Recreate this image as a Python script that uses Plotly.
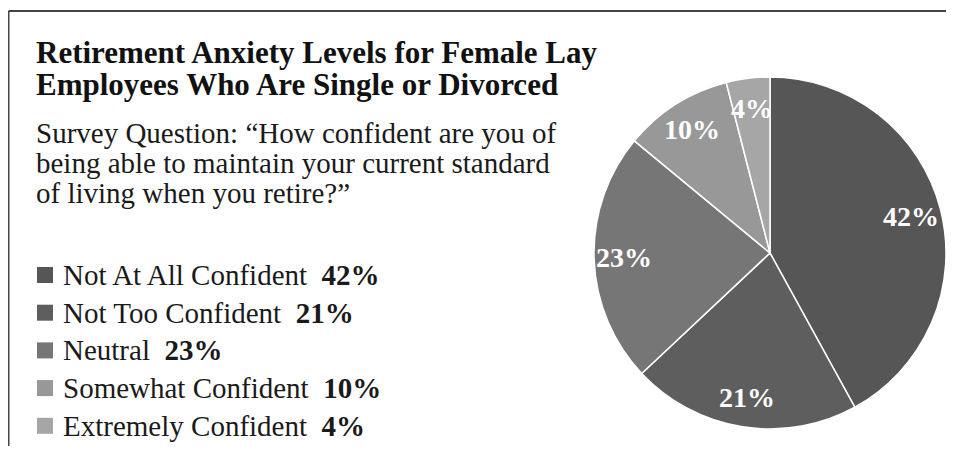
import math
import plotly.graph_objects as go

categories = ["Not At All Confident", "Not Too Confident", "Neutral",
              "Somewhat Confident", "Extremely Confident"]
values = [42, 21, 23, 10, 4]
colors = ["#565656", "#5e5e5e", "#767676", "#989898", "#a6a6a6"]

title_lines = ["Retirement Anxiety Levels for Female Lay",
               "Employees Who Are Single or Divorced"]
subtitle_lines = ["Survey Question: \u201cHow confident are you of",
                  "being able to maintain your current standard",
                  "of living when you retire?\u201d"]

# page has an 8px body margin on every side; keep the figure inside the window
OFF = 8
W, H = 954 - 2 * OFF, 454 - 2 * OFF
SERIF = "Liberation Serif, Times New Roman, serif"


def px(x):
    return (x - OFF) / W


def py(y):
    return 1 - (y - OFF) / H


PIE_X0, PIE_X1, PIE_Y0, PIE_Y1 = 594, 946, 77, 429
LABEL_R = 0.83

fig = go.Figure()
fig.add_trace(go.Pie(
    labels=categories,
    values=values,
    sort=False,
    direction="clockwise",
    rotation=0,
    marker=dict(colors=colors, line=dict(color="white", width=1.5)),
    textinfo="none",
    domain=dict(x=[px(PIE_X0), px(PIE_X1)], y=[py(PIE_Y1), py(PIE_Y0)]),
    showlegend=False,
    hoverinfo="label+percent",
))

annotations = []

# slice labels placed along each slice's mid-angle
cx, cy = (PIE_X0 + PIE_X1) / 2, (PIE_Y0 + PIE_Y1) / 2
R = (PIE_X1 - PIE_X0) / 2
total = sum(values)
cum = 0
for val in values:
    mid = (cum + val / 2) / total * 2 * math.pi
    cum += val
    lx = cx + LABEL_R * R * math.sin(mid)
    ly = cy - LABEL_R * R * math.cos(mid)
    annotations.append(dict(
        x=px(lx), y=py(ly), xref="paper", yref="paper",
        xanchor="center", yanchor="middle", showarrow=False,
        text=f"<b>{val}%</b>",
        font=dict(family=SERIF, size=28, color="white"),
    ))

for i, line in enumerate(title_lines):
    annotations.append(dict(
        x=px(34), y=py(52 + i * 33), xref="paper", yref="paper",
        xanchor="left", yanchor="middle", align="left", showarrow=False,
        text="<b>" + line + "</b>",
        font=dict(family=SERIF, size=31, color="#111111"),
    ))
for i, line in enumerate(subtitle_lines):
    annotations.append(dict(
        x=px(34), y=py(133 + i * 30), xref="paper", yref="paper",
        xanchor="left", yanchor="middle", align="left", showarrow=False,
        text=line,
        font=dict(family=SERIF, size=29, color="#1a1a1a"),
    ))

shapes = []
# frame lines
shapes.append(dict(type="line", xref="paper", yref="paper",
                   x0=0.5 / W, x1=1, y0=py(11), y1=py(11),
                   line=dict(color="#444444", width=2)))
shapes.append(dict(type="line", xref="paper", yref="paper",
                   x0=0.5 / W, x1=0.5 / W, y0=0, y1=py(11),
                   line=dict(color="#444444", width=2)))

leg_top = 275
leg_step = 37.7
sq = 16
for i, (cat, val, col) in enumerate(zip(categories, values, colors)):
    yc = leg_top + i * leg_step
    shapes.append(dict(type="rect", xref="paper", yref="paper",
                       x0=px(37), x1=px(37 + sq),
                       y0=py(yc + sq / 2), y1=py(yc - sq / 2),
                       fillcolor=col, line=dict(width=0)))
    annotations.append(dict(
        x=px(61), y=py(yc), xref="paper", yref="paper",
        xanchor="left", yanchor="middle", align="left", showarrow=False,
        text=f"{cat}  <b>{val}%</b>",
        font=dict(family=SERIF, size=29, color="#1a1a1a"),
    ))

fig.update_layout(
    width=W, height=H,
    margin=dict(l=0, r=0, t=0, b=0),
    paper_bgcolor="white", plot_bgcolor="white",
    annotations=annotations, shapes=shapes,
)

fig.write_html("out.html")
